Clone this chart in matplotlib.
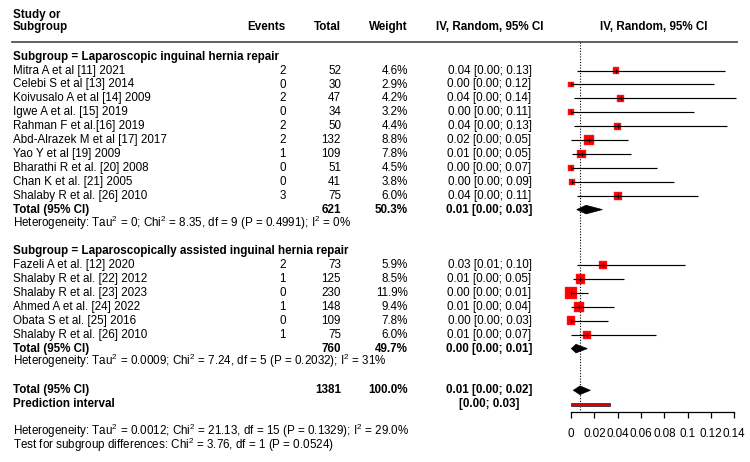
import matplotlib
matplotlib.use("Agg")
import matplotlib.pyplot as plt
from matplotlib.patches import Polygon, Rectangle

plt.rcParams['font.family'] = ['Liberation Sans', 'DejaVu Sans']
plt.rcParams['mathtext.fontset'] = 'custom'
plt.rcParams['mathtext.rm'] = 'Liberation Sans'
plt.rcParams['mathtext.it'] = 'Liberation Sans:italic'
plt.rcParams['mathtext.bf'] = 'Liberation Sans:bold'

# ---------------- data ----------------
studies1 = ["Mitra A et al [11] 2021", "Celebi S et al [13] 2014", "Koivusalo A et al [14] 2009",
            "Igwe A et al. [15] 2019", "Rahman F et al.[16] 2019", "Abd-Alrazek M et al [17] 2017",
            "Yao Y et al [19] 2009", "Bharathi R et al. [20] 2008", "Chan K et al. [21] 2005",
            "Shalaby R et al. [26] 2010"]
events1 = [2, 0, 2, 0, 2, 2, 1, 0, 0, 3]
total1 = [52, 30, 47, 34, 50, 132, 109, 51, 41, 75]
weight1 = [4.6, 2.9, 4.2, 3.2, 4.4, 8.8, 7.8, 4.5, 3.8, 6.0]
est1 = [0.0386, 0.0, 0.0426, 0.0, 0.040, 0.0154, 0.0092, 0.0, 0.0006, 0.040]
lo1 = [0.0049, 0.0, 0.0023, 0.0, 0.0026, 0.0, 0.0006, 0.0, 0.0, 0.0049]
hi1 = [0.1324, 0.1226, 0.1415, 0.1058, 0.134, 0.0486, 0.0512, 0.074, 0.088, 0.1086]
sub1_total, sub1_weight = 621, 50.3
sub1_est, sub1_lo, sub1_hi = 0.0129, 0.0049, 0.0269

studies2 = ["Fazeli A et al. [12] 2020", "Shalaby R et al. [22] 2012", "Shalaby R et al. [23] 2023",
            "Ahmed A et al. [24] 2022", "Obata S et al. [25] 2016", "Shalaby R et al. [26] 2010"]
events2 = [2, 1, 0, 1, 0, 1]
total2 = [73, 125, 230, 148, 109, 75]
weight2 = [5.9, 8.5, 11.9, 9.4, 7.8, 6.0]
est2 = [0.0272, 0.008, 0.0, 0.0071, 0.0, 0.0137]
lo2 = [0.0054, 0.002, 0.0, 0.0, 0.0, 0.0]
hi2 = [0.0978, 0.0457, 0.0145, 0.0366, 0.032, 0.0726]
sub2_total, sub2_weight = 760, 49.7
sub2_est, sub2_lo, sub2_hi = 0.0043, 0.0003, 0.014

all_total, all_weight = 1381, 100.0
all_est, all_lo, all_hi = 0.0077, 0.002, 0.0166
pi_lo, pi_hi = 0.0, 0.0337

xticks = [0, 0.02, 0.04, 0.06, 0.08, 0.1, 0.12, 0.14]
xticklabels = ["0", "0.02", "0.04", "0.06", "0.08", "0.1", "0.12", "0.14"]

het1 = r"Heterogeneity: Tau$^2$ = 0; Chi$^2$ = 8.35, df = 9 (P = 0.4991); I$^2$ = 0%"
het2 = r"Heterogeneity: Tau$^2$ = 0.0009; Chi$^2$ = 7.24, df = 5 (P = 0.2032); I$^2$ = 31%"
het_all = r"Heterogeneity: Tau$^2$ = 0.0012; Chi$^2$ = 21.13, df = 15 (P = 0.1329); I$^2$ = 29.0%"
test_sub = r"Test for subgroup differences: Chi$^2$ = 3.76, df = 1 (P = 0.0524)"
sub1_label = "Subgroup = Laparoscopic inguinal hernia repair"
sub2_label = "Subgroup = Laparoscopically assisted inguinal hernia repair"

# ---------------- layout ----------------
W, H = 750, 462
fig = plt.figure(figsize=(W / 100, H / 100), dpi=100)
Y0, DY = 56.7, 13.9
FS = 8.35
BASE_OFF = 3.0

def ypix(r):
    return Y0 + DY * r

X_STUDY, X_EV, X_TOT, X_W, X_CI, X_H2 = 13, 286, 341, 408, 489.5, 653.7

tax = fig.add_axes([0, 0, 1, 1])
tax.set_xlim(0, W)
tax.set_ylim(H, 0)
tax.axis('off')

def txt(x, r, s, ha='left', bold=False, ypx=None):
    y = ypix(r) if ypx is None else ypx
    tax.text(x, y + BASE_OFF, s, ha=ha, va='baseline', fontsize=FS,
             fontweight='bold' if bold else 'normal', color='black')

# headers
txt(X_STUDY, 0, "Study or", bold=True, ypx=15)
txt(X_STUDY, 0, "Subgroup", bold=True, ypx=27.3)
txt(X_EV, 0, "Events", ha='right', bold=True, ypx=27.3)
txt(X_TOT, 0, "Total", ha='right', bold=True, ypx=27.3)
txt(X_W, 0, "Weight", ha='right', bold=True, ypx=27.3)
txt(X_CI, 0, "IV, Random, 95% CI", ha='center', bold=True, ypx=27.3)
txt(X_H2, 0, "IV, Random, 95% CI", ha='center', bold=True, ypx=27.3)
tax.plot([12, 737], [41.7, 41.7], color='#555555', lw=1.3)

def ci_str(e, l, h):
    return f"{e:.2f} [{l:.2f}; {h:.2f}]"

# forest axes
AX_L, AX_R, AX_B = 571, 734.3, 412
fax = fig.add_axes([AX_L / W, (H - AX_B) / H, (AX_R - AX_L) / W, AX_B / H])
fax.set_xlim(xticks[0], xticks[-1])
fax.set_ylim((AX_B - Y0) / DY, (0 - Y0) / DY)
fax.patch.set_visible(False)
for s in ['top', 'left', 'right']:
    fax.spines[s].set_visible(False)
fax.spines['bottom'].set_linewidth(0.9)
fax.set_yticks([])
fax.set_xticks(xticks)
fax.set_xticklabels(xticklabels, fontsize=FS)
fax.tick_params(axis='x', direction='out', length=4.5, width=0.9, pad=7)

def study_rows(start, studies, events, totals, weights, est, lo, hi):
    rows = list(range(start, start + len(studies)))
    for r, s, ev, t, w, e, l, h in zip(rows, studies, events, totals, weights, est, lo, hi):
        txt(X_STUDY, r, s)
        txt(X_EV, r, str(ev), ha='right')
        txt(X_TOT, r, str(t), ha='right')
        txt(X_W, r, f"{w:.1f}%", ha='right')
        txt(X_CI, r, ci_str(e, l, h), ha='center')
    fax.scatter(est, rows, s=[5.28 * w for w in weights], marker='s',
                color='#ff0000', edgecolor='#ff3333', linewidth=0.3, zorder=2, clip_on=False)
    fax.hlines(rows, lo, hi, color='black', lw=0.85, zorder=3, clip_on=False)
    fax.scatter(est, rows, s=9, marker='|', color='black', linewidth=0.7, zorder=4, clip_on=False)
    return rows

def diamond(r, e, l, h, hh=0.31):
    fax.add_patch(Polygon([(l, r), (e, r - hh), (h, r), (e, r + hh)], closed=True,
                          facecolor='black', edgecolor='black', lw=0.5, clip_on=False, zorder=3))

def total_row(r, total, weight, e, l, h):
    txt(X_STUDY, r, "Total (95% CI)", bold=True)
    txt(X_TOT, r, str(total), ha='right', bold=True)
    txt(X_W, r, f"{weight:.1f}%", ha='right', bold=True)
    txt(X_CI, r, ci_str(e, l, h), ha='center', bold=True)
    diamond(r, e, l, h)

# group 1
txt(X_STUDY, 0, sub1_label, bold=True)
study_rows(1, studies1, events1, total1, weight1, est1, lo1, hi1)
total_row(11, sub1_total, sub1_weight, sub1_est, sub1_lo, sub1_hi)
txt(X_STUDY, 12, het1)

# group 2
txt(X_STUDY, 14, sub2_label, bold=True)
study_rows(15, studies2, events2, total2, weight2, est2, lo2, hi2)
total_row(21, sub2_total, sub2_weight, sub2_est, sub2_lo, sub2_hi)
txt(X_STUDY, 22, het2)

# overall
total_row(24, all_total, all_weight, all_est, all_lo, all_hi)
txt(X_STUDY, 25, "Prediction interval", bold=True)
txt(X_CI, 25, f"[{pi_lo:.2f}; {pi_hi:.2f}]", ha='center', bold=True)
fax.add_patch(Rectangle((pi_lo, 25 - 0.12), pi_hi - pi_lo, 0.24, facecolor='#dd0000',
                        edgecolor='#333333', lw=0.6, clip_on=False, zorder=3))
txt(X_STUDY, 27, het_all)
txt(X_STUDY, 28, test_sub)

# reference (dotted) line at overall estimate
fax.vlines(all_est, (41.7 - Y0) / DY, fax.get_ylim()[0], colors='black',
           linestyles=(0, (1, 1.5)), lw=0.8, zorder=1)

fig.savefig("out.png", dpi=100)
